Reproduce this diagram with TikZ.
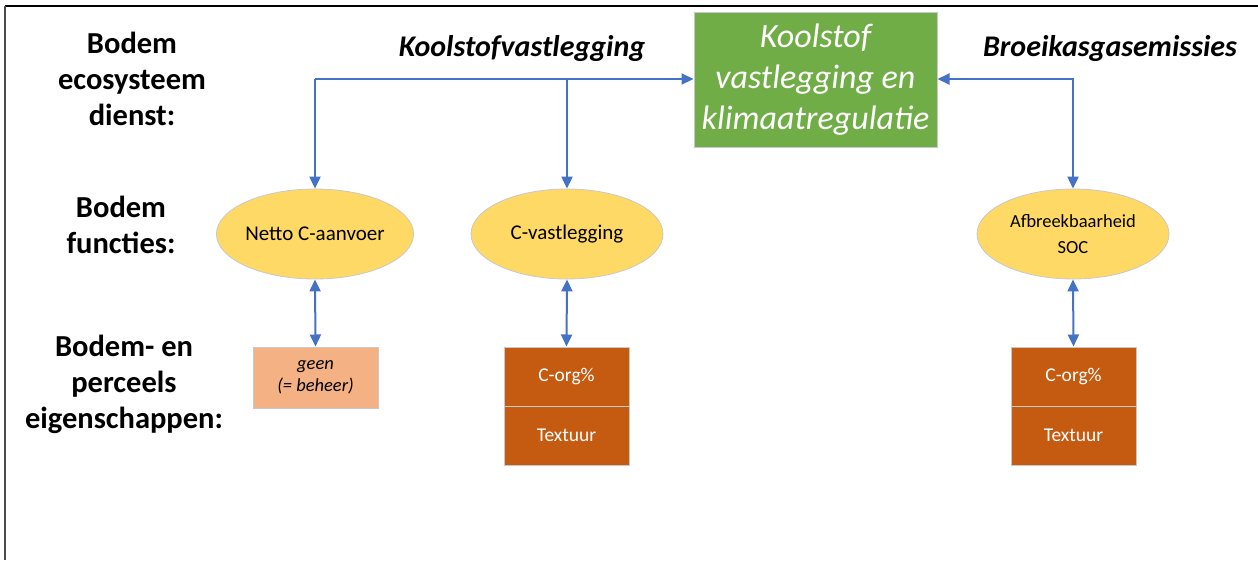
\documentclass[tikz,border=0pt]{standalone}
\usepackage{fontspec}
\setmainfont{Carlito}
\usetikzlibrary{arrows.meta,shapes.geometric}
\definecolor{arrblue}{HTML}{4472C4}
\definecolor{ellfill}{HTML}{FFD966}
\definecolor{green1}{HTML}{70AD47}
\definecolor{rust}{HTML}{C55A11}
\definecolor{peach}{HTML}{F4B183}
\definecolor{edgegrey}{HTML}{C9C9C9}
\tikzset{
  conn/.style={draw=arrblue, line width=2pt, -{Triangle[length=12pt,width=11pt]}},
  biconn/.style={draw=arrblue, line width=2pt, {Triangle[length=12pt,width=11pt]}-{Triangle[length=12pt,width=11pt]}},
  ell/.style={ellipse, fill=ellfill, draw=edgegrey, line width=0.8pt, minimum width=192pt, minimum height=90pt, inner sep=0pt, align=center, font=\fontsize{21}{26}\selectfont, text=black},
  rustbox/.style={rectangle, fill=rust, draw=edgegrey, line width=1pt, minimum width=125pt, minimum height=59pt, inner sep=0pt, text=white, font=\fontsize{19.5}{22}\selectfont},
  lbl/.style={align=center, font=\fontsize{30.5}{36}\selectfont\bfseries, text=black},
  hdr/.style={font=\fontsize{30}{34}\selectfont\bfseries\itshape, text=black}
}
\begin{document}
\begin{tikzpicture}[x=1pt,y=-1pt]
\useasboundingbox (0,0) rectangle (1258,560);
\fill[white] (0,0) rectangle (1258,560);
% frame
\draw[black, line width=2pt] (5,6) -- (1258,6);
\draw[black!70, line width=2pt] (5,6) -- (5,560);

% left labels
\node[lbl] (l1) at (132,79) {Bodem\\ecosysteem\\dienst:};
\node[lbl] (l2) at (121,225) {Bodem\\functies:};
\node[lbl] (l3) at (124,384) {Bodem- en\\perceels\\eigenschappen:};

% headers
\node[hdr] (h1) at (522,48) {Koolstofvastlegging};
\node[hdr] (h2) at (1110,48) {Broeikasgasemissies};

% green box
\node[rectangle, fill=green1, draw=edgegrey, line width=1pt, minimum width=243pt, minimum height=135pt, inner sep=0pt, align=center, text=white, font=\fontsize{34}{41}\selectfont\itshape] (eco) at (815.5,79.5) {Koolstof\\vastlegging en\\klimaatregulatie};

% ellipses
\node[ell] (f1) at (315,234) {Netto C-aanvoer};
\node[ell] (f2) at (567,234) {C-vastlegging};
\node[ell, font=\fontsize{18.5}{26}\selectfont] (f3) at (1073,234) {Afbreekbaarheid\\SOC};

% property boxes
\node[rectangle, fill=peach, draw=edgegrey, line width=1pt, minimum width=125pt, minimum height=61pt, inner sep=0pt, align=center, font=\fontsize{18.5}{22}\selectfont\itshape] (p1) at (315.5,377.5) {geen\\(= beheer)};
\node[rustbox] (p2a) at (566.5,376.5) {C-org\%};
\node[rustbox] (p2b) at (566.5,435.5) {Textuur};
\node[rustbox] (p3a) at (1073.5,376.5) {C-org\%};
\node[rustbox] (p3b) at (1073.5,435.5) {Textuur};

% connectors
\coordinate (j1) at (315,79);
\coordinate (j2) at (567,79);
\coordinate (j3) at (1073,79);
\draw[conn] (j1) -- (eco.west |- j1);
\draw[conn] (j1) -- (f1.north);
\draw[conn] (j2) -- (f2.north);
\draw[biconn] (eco.east |- j3) -- (j3) -- (f3.north);
\draw[biconn] (f1.south) -- (p1.north);
\draw[biconn] (f2.south) -- (p2a.north);
\draw[biconn] (f3.south) -- (p3a.north);
\end{tikzpicture}
\end{document}
